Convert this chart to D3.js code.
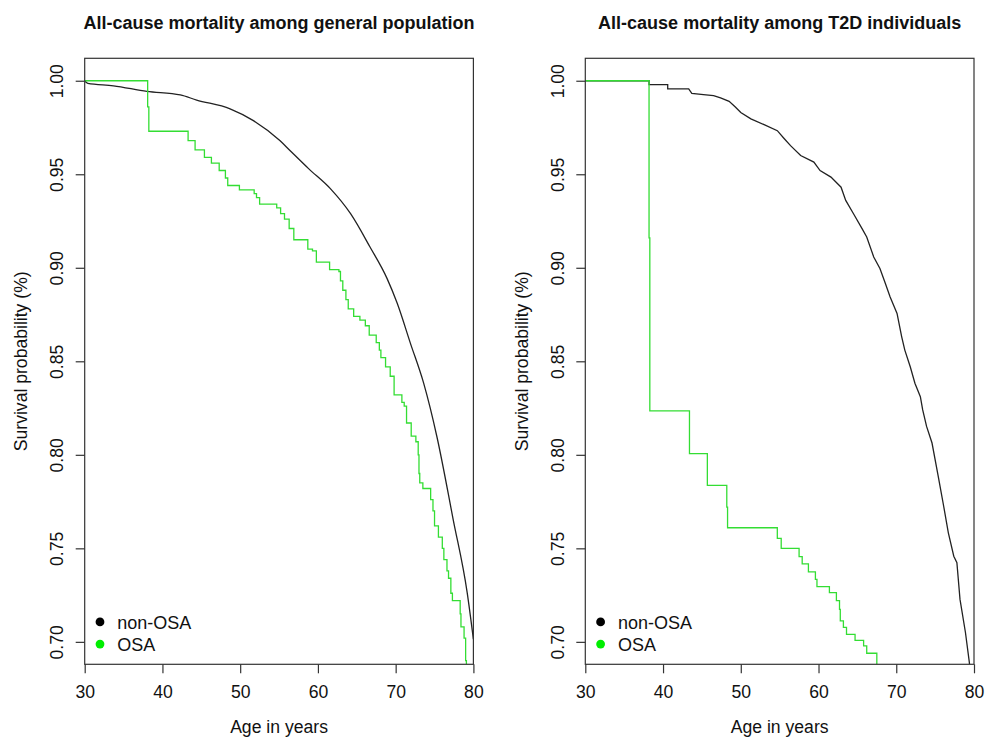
<!DOCTYPE html>
<html>
<head>
<meta charset="utf-8">
<script src="https://cdn.jsdelivr.net/npm/d3@7"></script>
<style>
  body { margin: 0; background: #fff; }
  svg { display: block; font-family: "Liberation Sans", Arial, sans-serif; }
</style>
</head>
<body>
<svg id="chart" width="985" height="738"></svg>
<script>
// tick values
const ageTicks = [30, 40, 50, 60, 70, 80];
const survTicks = [0.70, 0.75, 0.80, 0.85, 0.90, 0.95, 1.00];
const groups = ["non-OSA", "OSA"];
const titles = ["All-cause mortality among general population", "All-cause mortality among T2D individuals"];

// general population, non-OSA
const genNonOsaAge = [30, 30.4, 33.7, 38, 42.3, 44.4, 48.7, 51.7, 55.1, 56.4, 58.8, 61.6, 64.2, 66.7, 68.9, 70.2, 71.9, 73.6, 75.3, 77.4, 79.2, 80];
const genNonOsaSurv = [1.0, 0.9986, 0.9973, 0.9943, 0.9924, 0.9897, 0.985, 0.9787, 0.968, 0.9627, 0.953, 0.9423, 0.9289, 0.9111, 0.8942, 0.881, 0.8596, 0.8383, 0.8098, 0.7654, 0.7263, 0.7014];

// general population, OSA (step points: age, survival after the step)
const genOsaAge = [30, 38.1, 38.25, 43.3, 44.2, 45.4, 46.3, 47.3, 48.1, 48.4, 49.9, 51.8, 52.1, 52.5, 54.7, 55.2, 55.7, 56.3, 56.9, 58.7, 59.3, 59.8, 61.5, 62.7, 62.9, 63.2, 63.6, 63.9, 64.6, 65.4, 66.1, 66.6, 67.5, 67.9, 68.1, 68.7, 69.3, 69.8, 70.8, 71.1, 71.4, 72.0, 72.6, 72.9, 73.0, 73.1, 73.5, 74.5, 74.8, 75.0, 75.5, 76.0, 76.2, 76.6, 76.8, 77.1, 77.3, 78.3, 78.4, 78.8, 79.0, 79.1];
const genOsaSurv = [1.0, 0.986, 0.973, 0.968, 0.963, 0.959, 0.956, 0.952, 0.948, 0.944, 0.9417, 0.9396, 0.9375, 0.934, 0.932, 0.929, 0.926, 0.921, 0.915, 0.910, 0.909, 0.903, 0.899, 0.898, 0.893, 0.888, 0.883, 0.878, 0.874, 0.872, 0.869, 0.864, 0.860, 0.856, 0.852, 0.847, 0.842, 0.832, 0.828, 0.826, 0.817, 0.810, 0.807, 0.800, 0.790, 0.785, 0.782, 0.776, 0.770, 0.762, 0.756, 0.750, 0.744, 0.738, 0.734, 0.726, 0.722, 0.715, 0.708, 0.702, 0.690, 0.680];

// T2D, non-OSA
const t2dNonOsaAge = [30, 38.2, 38.2, 40.6, 40.6, 43.3, 43.7, 45.2, 46.5, 47.4, 48.5, 49.3, 50.0, 51.3, 53.0, 54.7, 55.6, 56.4, 57.7, 59.4, 60.2, 61.6, 62.9, 63.5, 64.5, 65.6, 66.2, 67.1, 67.9, 68.6, 69.2, 70.1, 70.7, 71.1, 71.8, 72.4, 73.1, 73.4, 73.9, 74.6, 75.4, 76.1, 76.7, 77.4, 77.8, 78.2, 78.9, 79.4, 79.6];
const t2dNonOsaSurv = [1.0, 1.0, 0.9979, 0.9979, 0.9956, 0.9956, 0.9932, 0.9926, 0.992, 0.9908, 0.989, 0.986, 0.983, 0.9796, 0.9765, 0.9733, 0.969, 0.9653, 0.960, 0.9565, 0.952, 0.9485, 0.9431, 0.936, 0.9289, 0.9209, 0.9165, 0.9058, 0.8996, 0.8916, 0.8845, 0.8756, 0.8631, 0.856, 0.8471, 0.8383, 0.8311, 0.824, 0.8152, 0.8063, 0.7885, 0.7725, 0.7583, 0.7458, 0.7423, 0.7227, 0.705, 0.689, 0.68];

// T2D, OSA
const t2dOsaAge = [30, 38.2, 38.3, 43.4, 45.7, 48.2, 48.3, 54.7, 55.2, 57.5, 57.9, 58.7, 59.6, 59.8, 61.4, 62.3, 62.7, 62.8, 63.2, 63.6, 64.7, 65.8, 66.2, 67.5];
const t2dOsaSurv = [1.0, 0.916, 0.8235, 0.8006, 0.7837, 0.772, 0.761, 0.7553, 0.750, 0.7456, 0.7417, 0.7374, 0.7334, 0.7295, 0.7263, 0.722, 0.7174, 0.7112, 0.7077, 0.704, 0.7008, 0.6978, 0.6939, 0.68];

const zip = (a, s) => a.map((v, i) => ({ age: v, surv: s[i] }));

const panels = [
    { title: titles[0], left: 84.7, curve: d3.curveMonotoneX, nonOsa: zip(genNonOsaAge, genNonOsaSurv), osa: zip(genOsaAge, genOsaSurv) },
    { title: titles[1], left: 585.3, curve: d3.curveLinear, nonOsa: zip(t2dNonOsaAge, t2dNonOsaSurv), osa: zip(t2dOsaAge, t2dOsaSurv) }
];

const boxTop = 58.3, boxBottom = 664.3, boxW = 388.7;
const ink = "#333";
const green = "#33dd33";
const font = "\"Liberation Sans\", Arial, sans-serif";
const svg = d3.select("#chart");

panels.forEach((p, i) => {
    const g = svg.append("g").attr("transform", `translate(${p.left},${boxTop})`);
    const h = boxBottom - boxTop;

    const x = d3.scaleLinear().domain([30, 80]).range([0, boxW]);
    const y = d3.scaleLinear().domain([0.688, 1.012]).range([h, 0]);

    g.append("clipPath")
        .attr("id", `clip-${i}`)
        .append("rect")
        .attr("width", boxW)
        .attr("height", h);

    const plot = g.append("g").attr("clip-path", `url(#clip-${i})`);

    const smooth = d3.line().x((d) => x(d.age)).y((d) => y(d.surv)).curve(p.curve);
    const step = d3.line().x((d) => x(d.age)).y((d) => y(d.surv)).curve(d3.curveStepAfter);

    plot.append("path")
        .datum(p.nonOsa)
        .attr("d", smooth)
        .attr("fill", "none")
        .attr("stroke", "#222")
        .attr("stroke-width", 1.3);

    plot.append("path")
        .datum(p.osa)
        .attr("d", step)
        .attr("fill", "none")
        .attr("stroke", green)
        .attr("stroke-width", 1.3);

    g.append("rect")
        .attr("width", boxW)
        .attr("height", h)
        .attr("fill", "none")
        .attr("stroke", ink)
        .attr("stroke-width", 1.2);

    // x axis
    const xa = g.append("g")
        .attr("transform", `translate(0,${h})`)
        .call(d3.axisBottom(x).tickValues(ageTicks).tickSize(9).tickSizeOuter(0));
    xa.select(".domain").remove();
    xa.selectAll("line").attr("stroke", ink).attr("stroke-width", 1.2);
    xa.selectAll("text")
        .attr("y", 34)
        .attr("dy", null)
        .attr("fill", "#111")
        .style("font-size", "17.6px")
        .style("font-family", font);

    // y axis, labels turned like R's default
    const ya = g.append("g")
        .call(d3.axisLeft(y).tickValues(survTicks).tickFormat(d3.format(".2f")).tickSize(9).tickSizeOuter(0));
    ya.select(".domain").remove();
    ya.selectAll("line").attr("stroke", ink).attr("stroke-width", 1.2);
    ya.selectAll("text")
        .attr("transform", "rotate(-90)")
        .attr("x", 0)
        .attr("y", -21.7)
        .attr("dy", null)
        .attr("text-anchor", "middle")
        .attr("fill", "#111")
        .style("font-size", "17.6px")
        .style("font-family", font);

    g.append("text")
        .attr("x", boxW / 2)
        .attr("y", 29 - boxTop)
        .attr("text-anchor", "middle")
        .attr("font-weight", "bold")
        .attr("font-size", 18)
        .attr("fill", "#111")
        .text(p.title);

    g.append("text")
        .attr("x", boxW / 2)
        .attr("y", 732.7 - boxTop)
        .attr("text-anchor", "middle")
        .attr("font-size", 17.6)
        .attr("fill", "#111")
        .text("Age in years");

    g.append("text")
        .attr("transform", `translate(-57.7,${h / 2}) rotate(-90)`)
        .attr("text-anchor", "middle")
        .attr("font-size", 17.6)
        .attr("fill", "#111")
        .text("Survival probability (%)");

    // legend
    const legend = g.append("g");
    groups.forEach((name, k) => {
        const ly = 621.9 - boxTop + k * 22.2;
        legend.append("circle")
            .attr("cx", 15.3)
            .attr("cy", ly)
            .attr("r", 4.4)
            .attr("fill", k === 0 ? "#000" : "#00ee00");
        legend.append("text")
            .attr("x", 32.6)
            .attr("y", ly + 7.4)
            .attr("font-size", 18)
            .attr("fill", "#111")
            .text(name);
    });
});
</script>
</body>
</html>
